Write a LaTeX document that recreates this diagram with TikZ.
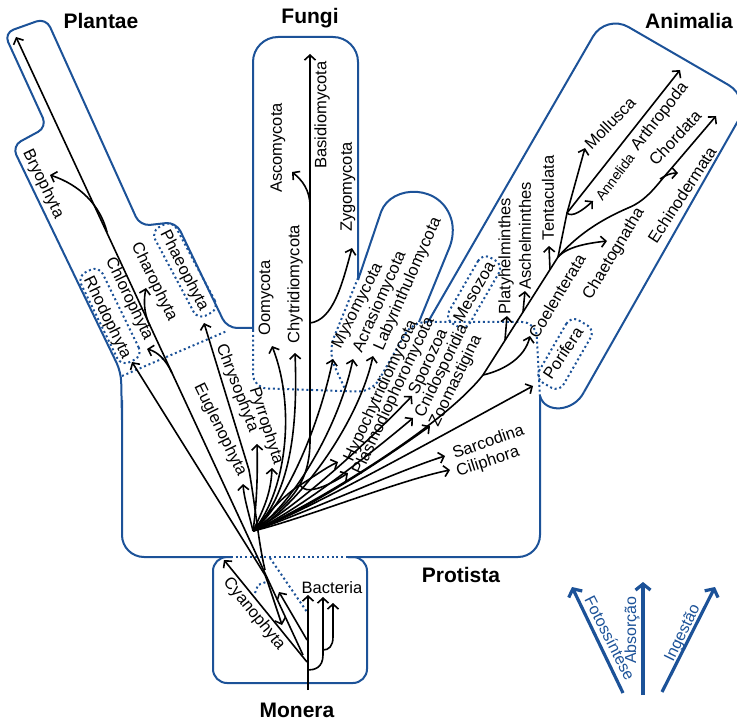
\documentclass[tikz,border=0pt]{standalone}
\usepackage{fontspec}
\setmainfont{Liberation Sans}
\usetikzlibrary{arrows.meta}
\definecolor{kblue}{RGB}{28,82,152}
\begin{document}
\begin{tikzpicture}[x=1pt,y=-1pt,
  lab/.style={font=\fontsize{16.5}{16.5}\selectfont, inner sep=0pt, anchor=center},
  slab/.style={font=\fontsize{14}{14}\selectfont, inner sep=0pt, anchor=center},
  ttl/.style={font=\fontsize{21}{21}\selectfont\bfseries, inner sep=0pt},
  br/.style={line width=1.6pt, -{Straight Barb[length=5pt,width=11pt,line width=1.6pt]}},
  ln/.style={line width=1.6pt},
  outl/.style={draw=kblue, line width=2pt, line join=round},
  dotl/.style={draw=kblue, line width=2pt, dash pattern=on 2pt off 2.8pt},
  dbox/.style={dotl, rounded corners=9pt, inner sep=0pt},
  leg/.style={draw=kblue, line width=3.2pt, -{Straight Barb[length=6pt,width=15pt,line width=3.2pt]}},
  legt/.style={font=\fontsize{16}{16}\selectfont, text=kblue, inner sep=0pt}]
\useasboundingbox (0,0) rectangle (737,722);

% ---------- solid outlines ----------
\draw[outl, rounded corners=10pt] (253,328) -- (227,328) -- (176,222) -- (140,226) -- (46,18) -- (4,33) -- (47,127) -- (12,146) -- (121,372) -- (122,420);
\draw[outl, rounded corners=22pt] (122,400) -- (122,557) -- (226,557);
\draw[outl, rounded corners=25pt] (253,330) -- (253,37) -- (358,37) -- (358,280);
\draw[outl] (358,280) -- (381,212) .. controls (391,184) and (443,183) .. (452,222) .. controls (454,233) and (452,242) .. (448,251) -- (419,322);
\draw[outl, rounded corners=26pt] (428,322) -- (606,14) -- (751,98) -- (584,392);
\draw[outl] (584,392) .. controls (574,412) and (545,414) .. (540,396);
\draw[outl, rounded corners=22pt] (348,557) -- (540,557) -- (540,396);
\draw[outl, rounded corners=14pt] (232,557) -- (213,557) -- (213,683) -- (367,683) -- (367,557) -- (348,557);

% ---------- dotted boundaries ----------
\draw[dotl] (226,557) -- (352,557);
\draw[dotl] (122,376) -- (227,331);
\draw[dotl, rounded corners=14pt] (253,330) -- (253,388) -- (372,392) -- (412,322) -- (536,322) -- (540,398);
\draw[dotl, rounded corners=15pt] (358,278) -- (328,352) -- (345,389);
\draw[dotl] (270,558) -- (307,612);
\draw[dotl] (255,593) -- (258,585) -- (266,582);
\node[dbox, rotate=-62, minimum width=100pt, minimum height=24pt] (bphae) at (185,270) {};
\node[dbox, rotate=-64, minimum width=100pt, minimum height=24pt] (brhodo) at (110,316) {};
\node[dbox, rotate=60, minimum width=76pt, minimum height=24pt] (bmeso) at (474,292) {};
\node[dbox, rotate=60, minimum width=72pt, minimum height=28pt] (bpori) at (565,354) {};

% ---------- coordinates ----------
\coordinate (O) at (253,531);
\coordinate (stem) at (308,690);
\coordinate (an) at (483,375);
\coordinate (anb) at (558,257);
\coordinate (anc) at (567,213);

% ---------- Monera ----------
\draw[br] (stem) -- (308,595);
\draw[br] (308,670) .. controls (314,670) and (323,668) .. (323,655) -- (323,597);
\draw[br] (323,650) .. controls (329,650) and (333,646) .. (333,637) -- (333,603);
\draw[br] (307,662) -- (224,560);
\draw[br] (307,640) -- (279,592);
\draw[br] (268,583) -- (282,625);

% ---------- Plantae ----------
\draw[br] (303,655) -- (16,37);
\draw[br] (107,232) .. controls (100,205) and (80,185) .. (50,175);
\draw[br] (150,326) .. controls (143,312) and (144,298) .. (146,288);
\draw[br] (172,373) .. controls (166,360) and (158,352) .. (147,349);
\draw[br] (268,583) -- (265,575) -- (132,362);
\draw[br] (265,570) .. controls (258,540) and (256,510) .. (249,470) -- (204,323);

% ---------- Protista fan ----------
\draw[br] (O) .. controls (249,514) and (244,498) .. (243,484);
\draw[br] (O) .. controls (256,510) and (258,480) .. (257,444);
\draw[br] (O) .. controls (262,512) and (271,495) .. (272,468);
\draw[br] (O) .. controls (285,495) and (297,410) .. (272,346);
\draw[br] (O) .. controls (290,495) and (298,430) .. (295,353);
\draw[br] (O) .. controls (295,500) and (310,480) .. (310,440) -- (310,54);
\draw[br] (310,206) .. controls (310,190) and (302,180) .. (292,172);
\draw[br] (310,323) .. controls (333,320) and (342,285) .. (352,248);
\draw[br] (O) .. controls (285,505) and (318,430) .. (333,359);
\draw[br] (O) .. controls (290,508) and (338,430) .. (353,359);
\draw[br] (O) .. controls (295,510) and (358,425) .. (373,356);
\draw[ln] (O) .. controls (270,510) and (285,495) .. (300,485);
\draw[br] (300,485) .. controls (312,478) and (325,468) .. (338,462);
\draw[br] (300,485) .. controls (305,495) and (325,488) .. (348,473);
\draw[br] (O) .. controls (300,505) and (370,440) .. (412,396);
\draw[br] (O) .. controls (300,510) and (375,450) .. (413,418);
\draw[br] (O) .. controls (305,512) and (390,455) .. (430,426);
\draw[br] (O) .. controls (300,515) and (400,470) .. (445,456);
\draw[br] (O) .. controls (300,520) and (400,480) .. (450,470);
\draw[br] (O) .. controls (300,515) and (470,420) .. (533,386);

% ---------- Animalia ----------
\draw[ln] (O) .. controls (300,512) and (440,430) .. (an) -- (anb) -- (anc);
\draw[br] (an) .. controls (505,370) and (525,357) .. (530,336);
\draw[br] (505,340) -- (507,316);
\draw[br] (523,312) -- (525,291);
\draw[br] (550,270) -- (549,246);
\draw[br] (anc) -- (585,148);
\draw[br] (anc) -- (680,70);
\draw[br] (anc) .. controls (572,218) and (583,210) .. (593,201);
\draw[br] (anb) .. controls (568,246) and (590,243) .. (607,241);
\draw[br] (anb) .. controls (580,232) and (605,218) .. (628,208) .. controls (648,200) and (658,183) .. (670,170) -- (716,116);
\draw[br] (660,179) .. controls (666,175) and (671,173) .. (678,173);

% ---------- labels ----------
\node[lab, rotate=-64] (lbry) at (43,184) {Bryophyta};
\node[lab, rotate=-64] (lcha) at (154,282) {Charophyta};
\node[lab, rotate=-63] (lpha) at (184,271) {Phaeophyta};
\node[lab, rotate=-64] (lchl) at (129,299) {Chlorophyta};
\node[lab, rotate=-64] (lrho) at (107,318) {Rhodophyta};
\node[lab, rotate=-69] (lchr) at (237,388) {Chrysophyta};
\node[lab, rotate=-64] (leug) at (220,430) {Euglenophyta};
\node[lab, rotate=-72] (lpyr) at (266,426) {Pyrrophyta};
\node[lab, rotate=90] (loom) at (266,298) {Oomycota};
\node[lab, rotate=90] (lchy) at (295,284) {Chytridiomycota};
\node[lab, rotate=90] (lasc) at (278,148) {Ascomycota};
\node[lab, rotate=90] (lbas) at (322,115) {Basidiomycota};
\node[lab, rotate=90] (lzyg) at (348,187) {Zygomycota};
\node[lab, rotate=63] (lmyx) at (358,306) {Myxomycota};
\node[lab, rotate=66] (lacr) at (380,302) {Acrasiomycota};
\node[lab, rotate=66] (llab) at (408,284) {Labyrinthulomycota};
\node[lab, rotate=65] (lhyp) at (381,391) {Hypochytridiomycota};
\node[lab, rotate=65] (lpla) at (394,396) {Plasmodiophoromycota};
\node[lab, rotate=65] (lspo) at (429,362) {Sporozoa};
\node[lab, rotate=64] (lcni) at (442,371) {Cnidosporidia};
\node[lab, rotate=64] (lzoo) at (456,381) {Zoomastigina};
\node[lab, rotate=19] (lsar) at (488,441) {Sarcodina};
\node[lab, rotate=18] (lcil) at (488,462) {Ciliphora};
\node[lab, rotate=60] (lmes) at (474,292) {Mesozoa};
\node[lab, rotate=56] (lpor) at (563,353) {Porifera};
\node[lab, rotate=59] (lcoe) at (557,296) {Coelenterata};
\node[lab, rotate=90] (lpla2) at (506,256) {Platyhelminthes};
\node[lab, rotate=90] (lasch) at (525,236) {Aschelminthes};
\node[lab, rotate=90] (lten) at (548,198) {Tentaculata};
\node[lab, rotate=59] (lcht) at (614,254) {Chaetognatha};
\node[lab, rotate=46] (lmol) at (610,123) {Mollusca};
\node[slab, rotate=53] (lann) at (615,177) {Annelida};
\node[lab, rotate=52] (lart) at (660,117) {Arthropoda};
\node[lab, rotate=47] (lcho) at (675,138) {Chordata};
\node[lab, rotate=57] (lech) at (682,195) {Echinodermata};
\node[lab, rotate=-51] (lcya) at (254,614) {Cyanophyta};
\node[lab] (lbac) at (332,588) {Bacteria};

\node[ttl] (tpla) at (101,21) {Plantae};
\node[ttl] (tfun) at (310,18) {Fungi};
\node[ttl] (tani) at (689,21) {Animalia};
\node[ttl] (tpro) at (461,575) {Protista};
\node[ttl] (tmon) at (297,710) {Monera};

% ---------- legend ----------
\coordinate (f0) at (623,693); \coordinate (f1) at (572,587);
\coordinate (a0) at (643,695); \coordinate (a1) at (643,582);
\coordinate (i0) at (662,692); \coordinate (i1) at (715,587);
\draw[leg] (f0) -- (f1);
\draw[leg] (a0) -- (a1);
\draw[leg] (i0) -- (i1);
\node[legt, rotate=-63] (lfot) at (610,638) {Fotossíntese};
\node[legt, rotate=90] (labs) at (632,630) {Absorção};
\node[legt, rotate=64] (ling) at (683,633) {Ingestão};
\end{tikzpicture}
\end{document}
